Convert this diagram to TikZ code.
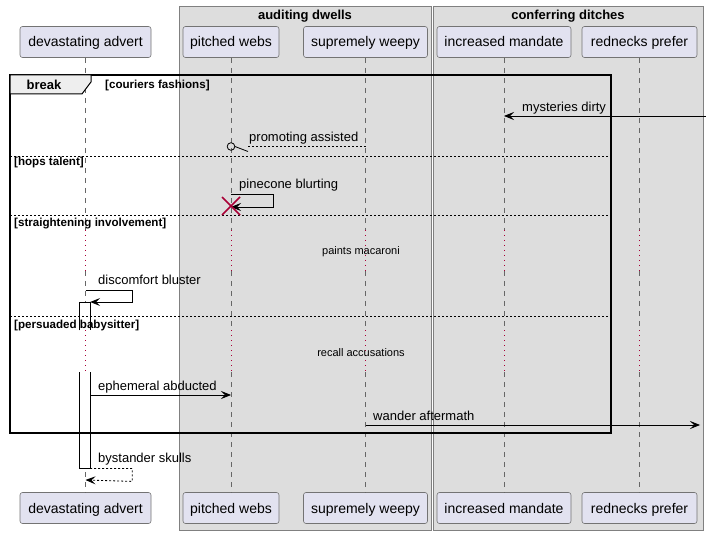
\documentclass[tikz,border=0pt]{standalone}
\usepackage{fontspec}
\setmainfont{Liberation Sans}
\usetikzlibrary{
  arrows.meta,
  positioning,
}
\definecolor{partfill}{HTML}{E2E2F0}
\definecolor{grpfill}{HTML}{DDDDDD}
\definecolor{tabfill}{HTML}{EEEEEE}
\definecolor{delayred}{HTML}{A80036}
\tikzset{
  part/.style={
    rectangle,
    rounded corners=2.5pt,
    minimum height=31pt,
    text centered,
    text height=11pt,
    text depth=1pt,
    draw=black!55,
    line width=0.6pt,
    fill=partfill,
    font=\fontsize{14}{16}\selectfont,
  },
  grp/.style={
    rectangle,
    draw=black!50,
    line width=0.8pt,
    fill=grpfill,
    anchor=north west,
  },
  grptitle/.style={
    font=\fontsize{13}{15}\selectfont\bfseries,
    anchor=base,
  },
  life/.style={
    draw=black!60,
    line width=0.7pt,
    dash pattern=on 5pt off 5pt,
  },
  delay/.style={
    draw=delayred,
    line width=0.8pt,
    dash pattern=on 1pt off 4pt,
  },
  frame/.style={
    draw=black,
    line width=1.6pt,
  },
  sep/.style={
    draw=black,
    line width=0.6pt,
    dash pattern=on 2pt off 2pt,
  },
  msg/.style={
    line width=0.8pt,
    -{Stealth[length=10pt, width=8pt, inset=4pt]},
  },
  reply/.style={
    msg,
    dash pattern=on 2pt off 2pt,
  },
  lbl/.style={
    anchor=base west,
    inner sep=0pt,
    font=\fontsize{13}{15}\selectfont,
  },
  guard/.style={
    anchor=base west,
    inner sep=0pt,
    font=\fontsize{11.6}{13}\selectfont\bfseries,
  },
  delaylbl/.style={
    anchor=base,
    inner sep=0pt,
    font=\fontsize{11}{13}\selectfont,
  },
  actbar/.style={
    rectangle,
    fill=white,
    minimum width=10pt,
    inner sep=0pt,
    anchor=north,
  },
}

\begin{document}
\begin{tikzpicture}[x=1pt, y=-1pt]
  \useasboundingbox (0,0) rectangle (706,534);

  % boxes round the participants
  \node[grp, minimum width=252pt, minimum height=524pt] (gAud) at (179,6) {};
  \node[grptitle] (tAud) at (305,20) {auditing dwells};
  \node[grp, minimum width=270pt, minimum height=524pt] (gConf) at (433,6) {};
  \node[grptitle] (tConf) at (568,20) {conferring ditches};

  % participants, top and bottom
  \node[part, minimum width=131pt] (advT) at (85.5,42) {devastating advert};
  \node[part, minimum width=96pt] (websT) at (231,42) {pitched webs};
  \node[part, minimum width=124pt] (weepyT) at (365.5,42) {supremely weepy};
  \node[part, minimum width=134pt] (mandT) at (504,42) {increased mandate};
  \node[part, minimum width=115pt] (redT) at (639.5,42) {rednecks prefer};

  \node[part, minimum width=131pt] (advB) at (85.5,508) {devastating advert};
  \node[part, minimum width=96pt] (websB) at (231,508) {pitched webs};
  \node[part, minimum width=124pt] (weepyB) at (365.5,508) {supremely weepy};
  \node[part, minimum width=134pt] (mandB) at (504,508) {increased mandate};
  \node[part, minimum width=115pt] (redB) at (639.5,508) {rednecks prefer};

  % delay rows
  \coordinate (dA) at (0,230);
  \coordinate (dB) at (0,271);
  \coordinate (dC) at (0,330);
  \coordinate (dD) at (0,372);

  % lifelines, dotted where delayed
  \foreach \p in {adv,webs,weepy,mand,red} {
    \draw[life] (\p T.south) -- (\p T.south |- dA);
    \draw[delay] (\p T.south |- dA) -- (\p T.south |- dB);
    \draw[life] (\p T.south |- dB) -- (\p T.south |- dC);
    \draw[delay] (\p T.south |- dC) -- (\p T.south |- dD);
    \draw[life] (\p T.south |- dD) -- (\p B.north);
  }

  % activation of devastating advert, cut by the delay
  \node[actbar, minimum height=28pt] (act1) at (85,302) {};
  \node[actbar, minimum height=96pt] (act2) at (85,372) {};
  \draw[line width=0.8pt] (act1.south west) -- (act1.north west) -- (act1.north east) -- (act1.south east);
  \draw[line width=0.8pt] (act2.north west) -- (act2.south west) -- (act2.south east) -- (act2.north east);

  % break fragment
  \coordinate (brkNW) at (10,75);
  \coordinate (brkSE) at (611,433);
  \draw[frame] (brkNW) rectangle (brkSE);
  \filldraw[frame, line width=1pt, fill=tabfill] (brkNW) -- ++(81,0) -- ++(0,7) -- ++(-9,12) -- ++(-72,0) -- cycle;
  \node[font=\fontsize{13}{15}\selectfont\bfseries, anchor=base] (brk) at (44,89.5) {break};
  \node[guard] (g1) at (105,89) {[couriers fashions]};

  \draw[sep] (10,156) -- (611,156);
  \node[guard] (g2) at (14,166) {[hops talent]};
  \draw[sep] (10,215) -- (611,215);
  \node[guard] (g3) at (14,227) {[straightening involvement]};
  \draw[sep] (10,316) -- (611,316);
  \node[guard] (g4) at (14,328) {[persuaded babysitter]};

  % messages
  \coordinate (edgeR) at (706,0);
  \coordinate (edgeR2) at (700,0);

  \draw[msg] (edgeR |- 0,116) -- (mandT.south |- 0,116);
  \node[lbl] (lMyst) at (522,112) {mysteries dirty};

  \coordinate (circ) at (231,146.5);
  \draw[line width=0.8pt, dash pattern=on 2pt off 2pt] (weepyT.south |- circ) -- (248,146.5);
  \draw[line width=0.8pt] (circ) circle (3.8pt);
  \draw[line width=0.8pt] (235,146.5) -- (248,151.5);
  \node[lbl] (lProm) at (249,142) {promoting assisted};

  \draw[msg] (websT.south |- 0,194) -- ++(42,0) -- ++(0,13) -- (websT.south |- 0,207);
  \draw[delayred, line width=1.6pt] (222,197) -- (240,215) (222,215) -- (240,197);
  \node[lbl] (lPine) at (239,189) {pinecone blurting};

  \node[delaylbl] (dPaint) at (361,255) {paints macaroni};

  \draw[msg] (advT.south |- 0,290) -- ++(47,0) -- ++(0,12) -- (act1.north east);
  \node[lbl] (lDisc) at (98,284.5) {discomfort bluster};

  \node[delaylbl] (dRecall) at (361,356) {recall accusations};

  \draw[msg] (act2.east |- 0,395) -- (websT.south |- 0,395);
  \node[lbl] (lEph) at (98,390) {ephemeral abducted};

  \draw[msg] (weepyT.south |- 0,425) -- (edgeR2 |- 0,425);
  \node[lbl] (lWand) at (373,420.5) {wander aftermath};

  \draw[reply] (act2.south east) -- ++(42,0) -- ++(0,13) -- (advT.south |- 0,480);
  \node[lbl] (lBys) at (98,462.5) {bystander skulls};

\end{tikzpicture}
\end{document}
